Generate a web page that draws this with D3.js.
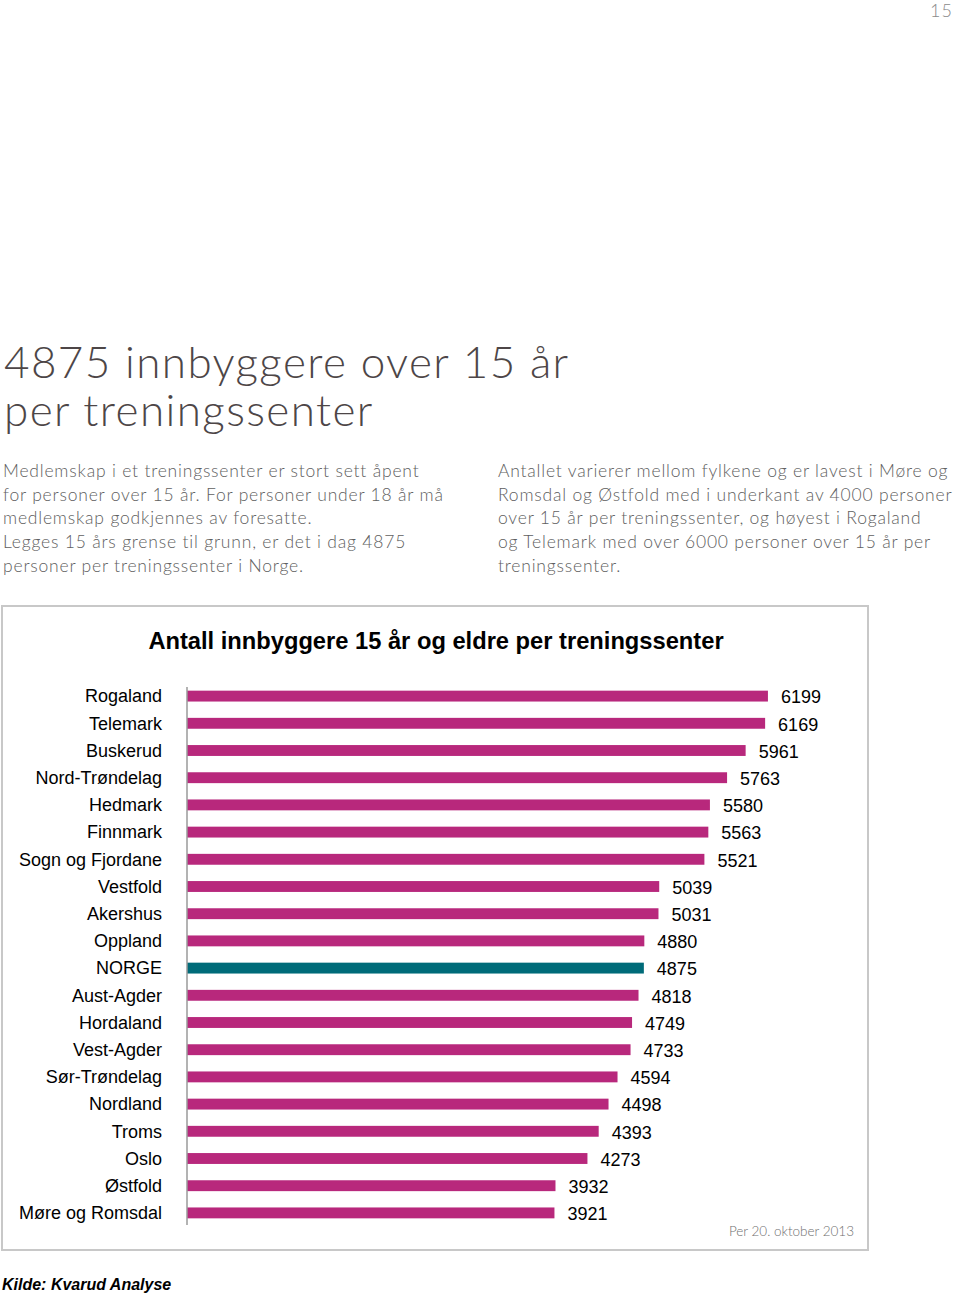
<!DOCTYPE html>
<html>
<head>
<meta charset="utf-8">
<script src="https://cdn.jsdelivr.net/npm/d3@7"></script>
<style>
  body { margin: 0; background: #fff; }
  svg { display: block; }
</style>
</head>
<body>
<div id="chart"></div>
<script>
// data
var fylker = ["Rogaland", "Telemark", "Buskerud", "Nord-Trøndelag", "Hedmark", "Finnmark",
    "Sogn og Fjordane", "Vestfold", "Akershus", "Oppland", "NORGE", "Aust-Agder", "Hordaland",
    "Vest-Agder", "Sør-Trøndelag", "Nordland", "Troms", "Oslo", "Østfold", "Møre og Romsdal"];
var innbyggere = [6199, 6169, 5961, 5763, 5580, 5563, 5521, 5039, 5031, 4880, 4875, 4818, 4749,
    4733, 4594, 4498, 4393, 4273, 3932, 3921];
var heading = ["4875 innbyggere over 15 år", "per treningssenter"];
var leftText = ["Medlemskap i et treningssenter er stort sett åpent",
    "for personer over 15 år. For personer under 18 år må",
    "medlemskap godkjennes av foresatte.",
    "Legges 15 års grense til grunn, er det i dag 4875",
    "personer per treningssenter i Norge."];
var rightText = ["Antallet varierer mellom fylkene og er lavest i Møre og",
    "Romsdal og Østfold med i underkant av 4000 personer",
    "over 15 år per treningssenter, og høyest i Rogaland",
    "og Telemark med over 6000 personer over 15 år per",
    "treningssenter."];
var chartTitle = "Antall innbyggere 15 år og eldre per treningssenter";
var dateNote = "Per 20. oktober 2013";
var source = "Kilde: Kvarud Analyse";
var pageNo = "15";

var data = fylker.map(function (d, i) { return { name: d, value: innbyggere[i] }; });

var W = 960, H = 1294;
var svg = d3.select("#chart").append("svg")
    .attr("width", W)
    .attr("height", H);

var textFont = "Lato, 'Open Sans', sans-serif";

// page number
svg.append("text")
    .attr("x", 953).attr("y", 17)
    .attr("text-anchor", "end")
    .style("font-family", textFont).style("font-size", "18px").style("font-weight", 300)
    .style("letter-spacing", "1px")
    .style("fill", "#8a8a8a")
    .text(pageNo);

// heading
svg.append("g").selectAll("text")
    .data(heading)
    .enter().append("text")
    .attr("x", 4)
    .attr("y", function (d, i) { return 378 + i * 48; })
    .style("font-family", textFont).style("font-size", "44px").style("font-weight", 300)
    .style("letter-spacing", "1.4px")
    .style("fill", "#4d4647")
    .text(function (d) { return d; });

// two text columns
function column(lines, x, ls) {
    svg.append("g").selectAll("text")
        .data(lines)
        .enter().append("text")
        .attr("x", x)
        .attr("y", function (d, i) { return 477 + i * 23.7; })
        .style("font-family", textFont).style("font-size", "17.5px").style("font-weight", 300)
        .style("letter-spacing", ls)
        .style("fill", "#606060")
        .text(function (d) { return d; });
}
column(leftText, 3, "0.8px");
column(rightText, 498, "0.8px");

// chart frame
svg.append("rect")
    .attr("x", 2).attr("y", 606)
    .attr("width", 866).attr("height", 644)
    .style("fill", "none")
    .style("stroke", "#c8c8c8")
    .style("stroke-width", 2);

svg.append("text")
    .attr("x", 436).attr("y", 649)
    .attr("text-anchor", "middle")
    .style("font-family", "'Liberation Sans', Arial, sans-serif")
    .style("font-size", "23.7px").style("font-weight", "bold")
    .style("fill", "#000")
    .text(chartTitle);

// scales
var x = d3.scaleLinear()
    .domain([0, 7000])
    .range([187, 843]);

var y = d3.scaleBand()
    .domain(fylker)
    .range([682.5, 1226.5])
    .paddingInner(0.6)
    .paddingOuter(0.3);

// bars
svg.append("g").selectAll("rect")
    .data(data)
    .enter().append("rect")
    .attr("x", x(0))
    .attr("y", function (d) { return y(d.name); })
    .attr("width", function (d) { return x(d.value) - x(0); })
    .attr("height", y.bandwidth())
    .style("fill", function (d) { return d.name == "NORGE" ? "#006b79" : "#b8287c"; });

// category axis
var yAxis = svg.append("g")
    .attr("transform", "translate(" + x(0) + ",0)")
    .call(d3.axisLeft(y).tickSize(0).tickPadding(25));
yAxis.select(".domain")
    .attr("d", "M0,687V1225")
    .style("stroke", "#9a9a9a")
    .style("stroke-width", 1.5);
yAxis.selectAll("text")
    .attr("dy", "0.35em")
    .style("font-family", "'Liberation Sans', Arial, sans-serif")
    .style("font-size", "18px")
    .style("fill", "#000");

// value labels
svg.append("g").selectAll("text")
    .data(data)
    .enter().append("text")
    .attr("x", function (d) { return x(d.value) + 13; })
    .attr("y", function (d) { return y(d.name) + y.bandwidth() / 2 + 1; })
    .attr("dy", "0.35em")
    .style("font-family", "'Liberation Sans', Arial, sans-serif")
    .style("font-size", "18px")
    .style("fill", "#000")
    .text(function (d) { return d.value; });

// date note
svg.append("text")
    .attr("x", 854).attr("y", 1236)
    .attr("text-anchor", "end")
    .style("font-family", textFont).style("font-size", "13.5px").style("font-weight", 300)
    .style("fill", "#707070")
    .text(dateNote);

// source
svg.append("text")
    .attr("x", 2).attr("y", 1290)
    .style("font-family", "'Liberation Sans', Arial, sans-serif")
    .style("font-size", "16px").style("font-weight", "bold").style("font-style", "italic")
    .style("fill", "#000")
    .text(source);
</script>
</body>
</html>
